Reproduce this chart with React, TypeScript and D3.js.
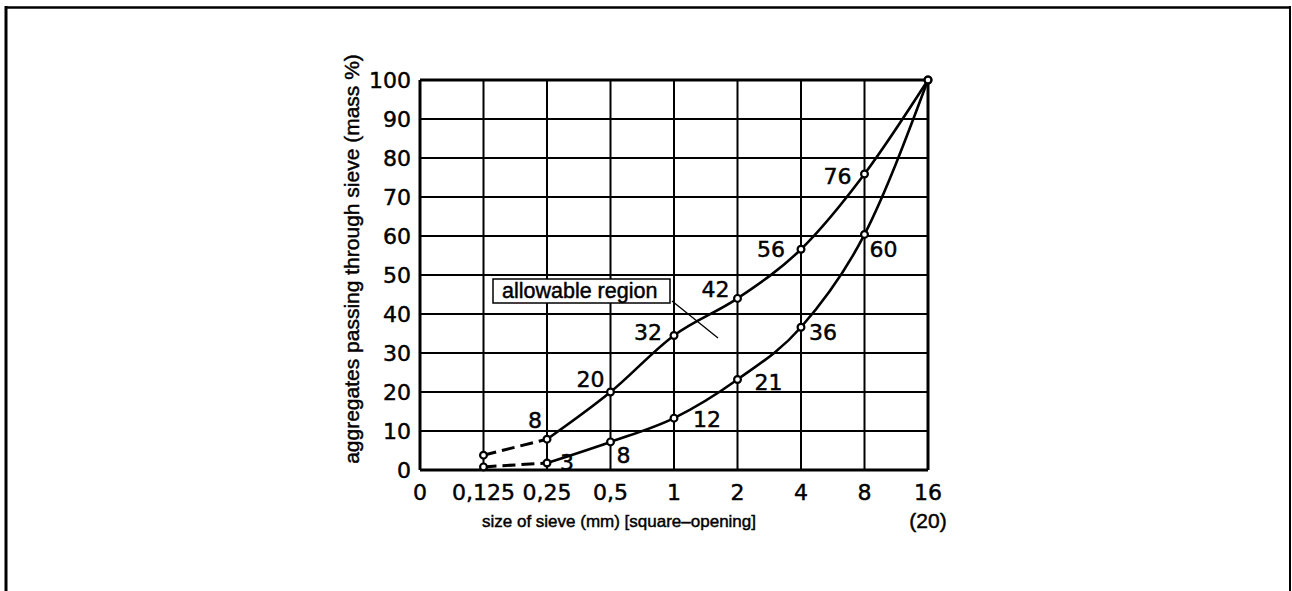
import React from "react";
import * as d3 from "d3";

const sieveLabels = ["0", "0,125", "0,25", "0,5", "1", "2", "4", "8", "16"];
const curveSieves = ["0,125", "0,25", "0,5", "1", "2", "4", "8", "16"];
const upperValues = [3.8, 7.9, 20, 34.5, 44, 56.6, 75.9, 100];
const upperLabels = [null, "8", "20", "32", "42", "56", "76", null];
const lowerValues = [0.8, 1.8, 7.2, 13.3, 23.2, 36.6, 60.4, 100];
const lowerLabels = [null, "3", "8", "12", "21", "36", "60", null];
const yTicks = [0, 10, 20, 30, 40, 50, 60, 70, 80, 90, 100];

// label layout (offsets from the point)
const upperOffsets = [null, [-5, -11], [-6, -5], [-12, 5], [-8, -1], [-16, 8], [-13, 10], null];
const lowerOffsets = [null, [13, 7], [6, 21], [19, 9], [17, 10], [8, 13], [5, 23], null];

const NUM_FONT = "'DejaVu Sans', sans-serif";
const TXT_FONT = "'Liberation Sans', Arial, sans-serif";
const TXT_STROKE = { stroke: "#000", strokeWidth: 0.45 };

export default function App() {
  const W = 1292, H = 591;
  const x = d3.scalePoint<string>().domain(sieveLabels).range([420, 928]);
  const y = d3.scaleLinear().domain([0, 100]).range([470, 80]);

  const upperPts: [number, number][] = curveSieves.map((s, i) => [x(s)!, y(upperValues[i])]);
  const lowerPts: [number, number][] = curveSieves.map((s, i) => [x(s)!, y(lowerValues[i])]);

  const line = d3.line().curve(d3.curveMonotoneX);
  const straight = d3.line();

  const x0 = x(sieveLabels[0])!;
  const x1 = x(sieveLabels[sieveLabels.length - 1])!;

  return (
    <svg width={W} height={H} style={{ position: "absolute", left: 0, top: 0, background: "#fff" }}>
      {/* page frame */}
      <line x1={5} y1={7.5} x2={1291} y2={7.5} stroke="#000" strokeWidth={2.5} />
      <line x1={6} y1={6} x2={6} y2={H} stroke="#000" strokeWidth={3} />
      <line x1={1290} y1={6} x2={1290} y2={H} stroke="#000" strokeWidth={2} />

      {/* grid */}
      {yTicks.map((t) => (
        <line key={"h" + t} x1={x0} x2={x1} y1={y(t)} y2={y(t)} stroke="#000"
          strokeWidth={t === 0 || t === 100 ? 3 : 2} />
      ))}
      {sieveLabels.map((s, i) => (
        <line key={"v" + s} x1={x(s)} x2={x(s)} y1={y(100)} y2={y(0)} stroke="#000"
          strokeWidth={i === 0 || i === sieveLabels.length - 1 ? 3 : 2} />
      ))}

      {/* y tick labels */}
      {yTicks.map((t) => (
        <text key={"yl" + t} x={411} y={y(t) + 8} textAnchor="end" fontFamily={NUM_FONT} fontSize={22} fill="#000" {...TXT_STROKE}>
          {t}
        </text>
      ))}
      {/* x tick labels */}
      {sieveLabels.map((s) => (
        <text key={"xl" + s} x={x(s)} y={500} textAnchor="middle" fontFamily={NUM_FONT} fontSize={22} fill="#000" {...TXT_STROKE}>
          {s}
        </text>
      ))}
      <text x={x1} y={528} textAnchor="middle" fontFamily={TXT_FONT} fontSize={21} fill="#000" {...TXT_STROKE}>(20)</text>

      {/* axis titles */}
      <text x={619} y={527} textAnchor="middle" fontFamily={TXT_FONT} fontSize={17} fill="#000" {...TXT_STROKE}>
        size of sieve (mm) [square–opening]
      </text>
      <text transform="translate(359,259) rotate(-90)" textAnchor="middle" fontFamily={TXT_FONT} fontSize={21} fill="#000" {...TXT_STROKE}>
        aggregates passing through sieve (mass %)
      </text>

      {/* dashed starting segments */}
      <path d={straight(upperPts.slice(0, 2))!} fill="none" stroke="#000" strokeWidth={3} strokeDasharray="13,6" />
      <path d={straight(lowerPts.slice(0, 2))!} fill="none" stroke="#000" strokeWidth={3} strokeDasharray="13,6" />

      {/* curves */}
      <path d={line(upperPts.slice(1))!} fill="none" stroke="#000" strokeWidth={2.6} />
      <path d={line(lowerPts.slice(1))!} fill="none" stroke="#000" strokeWidth={2.6} />

      {/* markers */}
      {[...upperPts, ...lowerPts].map((p, i) => (
        <circle key={"m" + i} cx={p[0]} cy={p[1]} r={3.4} fill="#fff" stroke="#000" strokeWidth={2.2} />
      ))}

      {/* point labels */}
      {upperLabels.map((l, i) =>
        l ? (
          <text key={"ul" + i} x={upperPts[i][0] + upperOffsets[i]![0]} y={upperPts[i][1] + upperOffsets[i]![1]}
            textAnchor="end" fontFamily={NUM_FONT} fontSize={22} fill="#000" {...TXT_STROKE}>{l}</text>
        ) : null
      )}
      {lowerLabels.map((l, i) =>
        l ? (
          <text key={"ll" + i} x={lowerPts[i][0] + lowerOffsets[i]![0]} y={lowerPts[i][1] + lowerOffsets[i]![1]}
            textAnchor="start" fontFamily={NUM_FONT} fontSize={22} fill="#000" {...TXT_STROKE}>{l}</text>
        ) : null
      )}

      {/* allowable region box + leader */}
      <rect x={493} y={279} width={177} height={24} fill="#fff" stroke="#000" strokeWidth={1.5} />
      <text x={502} y={298} fontFamily={TXT_FONT} fontSize={21.5} fill="#000" {...TXT_STROKE}>allowable region</text>
      <line x1={672} y1={301} x2={718} y2={338} stroke="#000" strokeWidth={1.3} />
    </svg>
  );
}
